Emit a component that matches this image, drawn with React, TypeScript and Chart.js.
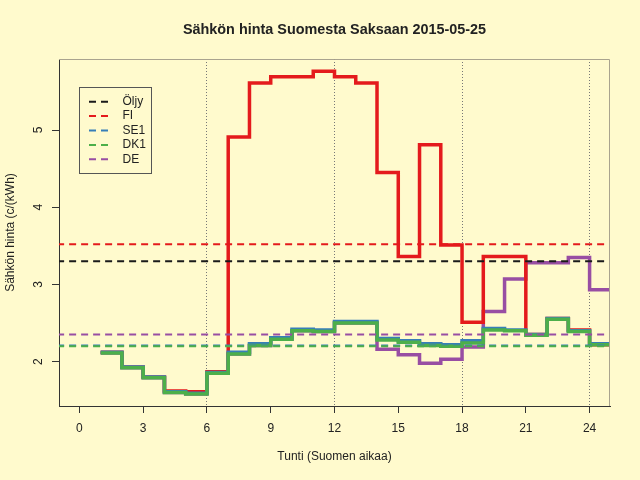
import React, { useEffect, useRef } from 'react';
import { Chart, registerables } from 'chart.js';

Chart.register(...registerables);

// ---- data ----
const hours = [1, 2, 3, 4, 5, 6, 7, 8, 9, 10, 11, 12, 13, 14, 15, 16, 17, 18, 19, 20, 21, 22, 23, 24, 25];
const fiValues = [2.12, 1.93, 1.80, 1.62, 1.61, 1.87, 4.91, 5.61, 5.69, 5.69, 5.76, 5.69, 5.61, 4.45, 3.36, 4.81, 3.51, 2.51, 3.36, 3.36, 2.35, 2.56, 2.41, 2.22];
const se1Values = [2.12, 1.93, 1.80, 1.61, 1.59, 1.86, 2.12, 2.23, 2.31, 2.42, 2.41, 2.52, 2.52, 2.30, 2.27, 2.23, 2.22, 2.27, 2.43, 2.41, 2.35, 2.56, 2.40, 2.23];
const dk1Values = [2.11, 1.92, 1.79, 1.60, 1.58, 1.85, 2.10, 2.21, 2.29, 2.40, 2.39, 2.50, 2.50, 2.28, 2.25, 2.21, 2.20, 2.24, 2.41, 2.40, 2.34, 2.55, 2.39, 2.22];
const deValues = [2.11, 1.92, 1.79, 1.60, 1.58, 1.85, 2.10, 2.21, 2.29, 2.40, 2.39, 2.50, 2.50, 2.16, 2.09, 1.98, 2.03, 2.19, 2.65, 3.07, 3.28, 3.28, 3.35, 2.93];

const legendLabels = ['Öljy', 'FI', 'SE1', 'DK1', 'DE'];
const meanValues = [3.30, 3.52, 2.21, 2.20, 2.35];
const seriesColors = ['#1a1a1a', '#E41A1C', '#377EB8', '#4DAF4A', '#984EA3'];

const xTicks = [0, 3, 6, 9, 12, 15, 18, 21, 24];
const yTicks = [2, 3, 4, 5];
const gridHours = [6, 12, 18, 24];

const chartTitle = 'Sähkön hinta Suomesta Saksaan 2015-05-25';
const xTitle = 'Tunti (Suomen aikaa)';
const yTitle = 'Sähkön hinta (c/(kWh)';

const FONT = '"Liberation Sans", Arial, Helvetica, sans-serif';
const BG = '#FFFACD';
const TEXT = '#222';

function stepPoints(vals: number[]) {
  return hours.map((h, i) => ({ x: h, y: vals[Math.min(i, vals.length - 1)] }));
}

const bgPlugin = {
  id: 'bg',
  beforeDraw(chart: any) {
    const { ctx, width, height } = chart;
    ctx.save();
    ctx.fillStyle = BG;
    ctx.fillRect(0, 0, width, height);
    ctx.restore();
  },
};

const decoPlugin = {
  id: 'deco',
  afterDraw(chart: any) {
    const { ctx, chartArea } = chart;
    const { left, right, top, bottom } = chartArea;
    ctx.save();
    // gray frame top/right
    ctx.strokeStyle = '#A9A38E';
    ctx.lineWidth = 1;
    ctx.beginPath();
    ctx.moveTo(left, top + 0.5);
    ctx.lineTo(right - 0.5, top + 0.5);
    ctx.lineTo(right - 0.5, bottom);
    ctx.stroke();

    // title
    ctx.fillStyle = TEXT;
    ctx.font = `bold 14.4px ${FONT}`;
    ctx.textAlign = 'center';
    ctx.textBaseline = 'middle';
    ctx.fillText(chartTitle, (left + right) / 2, 30.5);

    // y tick labels (rotated like R)
    const ys = chart.scales.y;
    ctx.font = `12px ${FONT}`;
    ys.ticks.forEach((t: any) => {
      const py = ys.getPixelForValue(t.value);
      ctx.save();
      ctx.translate(38.5, py);
      ctx.rotate(-Math.PI / 2);
      ctx.textAlign = 'center';
      ctx.textBaseline = 'middle';
      ctx.fillText(String(t.value), 0, 0);
      ctx.restore();
    });

    // legend
    const bx = 79.5, by = 87.5, bw = 72, bh = 86;
    ctx.strokeStyle = '#555';
    ctx.lineWidth = 1;
    ctx.strokeRect(bx, by, bw, bh);
    ctx.textAlign = 'left';
    ctx.textBaseline = 'middle';
    legendLabels.forEach((lab, i) => {
      const ry = 101.7 + i * 14.4;
      ctx.strokeStyle = seriesColors[i];
      ctx.lineWidth = 2;
      ctx.setLineDash([7, 5]);
      ctx.beginPath();
      ctx.moveTo(89, ry);
      ctx.lineTo(110, ry);
      ctx.stroke();
      ctx.setLineDash([]);
      ctx.fillStyle = TEXT;
      ctx.fillText(lab, 122.5, ry);
    });
    ctx.restore();
  },
};

export default function App() {
  const ref = useRef<HTMLCanvasElement | null>(null);

  useEffect(() => {
    if (!ref.current) return;
    const stepSets = [
      { label: 'DK1', vals: dk1Values, color: seriesColors[3], order: 6 },
      { label: 'SE1', vals: se1Values, color: seriesColors[2], order: 7 },
      { label: 'FI', vals: fiValues, color: seriesColors[1], order: 8 },
      { label: 'DE', vals: deValues, color: seriesColors[4], order: 9 },
    ].map((s) => ({
      label: s.label,
      data: stepPoints(s.vals),
      borderColor: s.color,
      borderWidth: 3.5,
      stepped: 'before' as const,
      pointRadius: 0,
      fill: false,
      order: s.order,
    }));
    const meanOrder = [5, 4, 3, 2, 1];
    const meanSets = legendLabels.map((lab, i) => ({
      label: lab + ' ka',
      data: [{ x: -5, y: meanValues[i] }, { x: 30, y: meanValues[i] }],
      borderColor: seriesColors[i],
      borderWidth: 2,
      borderDash: [7, 5],
      pointRadius: 0,
      fill: false,
      order: meanOrder[i],
    }));

    const chart = new Chart(ref.current, {
      type: 'line',
      data: { datasets: [...stepSets, ...meanSets] as any },
      options: {
        animation: false,
        responsive: false,
        maintainAspectRatio: false,
        layout: { padding: { top: 59, left: 0, right: 30, bottom: 0 } },
        plugins: { legend: { display: false }, tooltip: { enabled: false }, title: { display: false } },
        scales: {
          x: {
            type: 'linear',
            min: -0.96,
            max: 24.96,
            afterBuildTicks: (s: any) => { s.ticks = xTicks.map((v) => ({ value: v })); },
            afterFit: (s: any) => { s.height = 74; },
            ticks: {
              autoSkip: false,
              maxRotation: 0,
              minRotation: 0,
              padding: 8,
              color: TEXT,
              font: { family: FONT, size: 12 },
              callback: (v: any) => String(v),
            },
            grid: {
              color: (c: any) => (c.tick && gridHours.includes(c.tick.value) ? '#777' : 'rgba(0,0,0,0)'),
              tickColor: '#333',
              tickLength: 7,
              lineWidth: 1,
            },
            border: { color: '#333', width: 1, dash: [1, 2] },
            title: {
              display: true,
              text: xTitle,
              color: TEXT,
              font: { family: FONT, size: 12 },
              padding: { top: 0, bottom: 16 },
            },
          },
          y: {
            type: 'linear',
            min: 1.425,
            max: 5.92,
            afterBuildTicks: (s: any) => { s.ticks = yTicks.map((v) => ({ value: v })); },
            afterFit: (s: any) => { s.width = 59; },
            ticks: { display: false },
            grid: {
              drawOnChartArea: false,
              tickColor: '#333',
              tickLength: 7,
            },
            border: { color: '#333', width: 1 },
            title: {
              display: true,
              text: yTitle,
              color: TEXT,
              font: { family: FONT, size: 12 },
              padding: { top: 3, bottom: 0 },
            },
          },
        },
      },
      plugins: [bgPlugin, decoPlugin],
    });
    return () => chart.destroy();
  }, []);

  return (
    <div style={{ position: 'absolute', left: 0, top: 0, width: 640, height: 480, background: BG }}>
      <canvas ref={ref} width={640} height={480} style={{ display: 'block', width: 640, height: 480 }} />
    </div>
  );
}
